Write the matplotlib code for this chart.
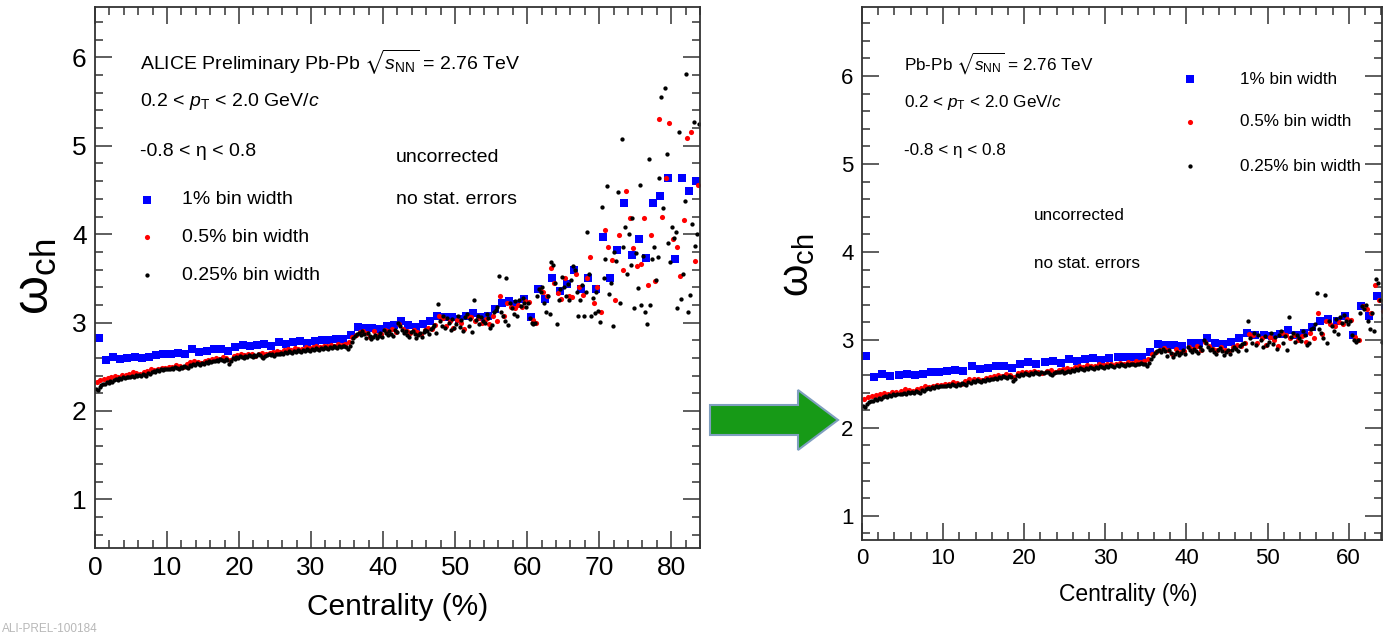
import numpy as np
import matplotlib
matplotlib.use("Agg")
import matplotlib.pyplot as plt
from matplotlib.lines import Line2D
from matplotlib.patches import Polygon
from matplotlib.ticker import MultipleLocator

# ---------------- data ----------------
# omega_ch vs centrality, 1% bins (centres 0.5 ... 83.5)
w_1pct = [2.82, 2.58, 2.61, 2.59, 2.60, 2.615, 2.60, 2.61, 2.63, 2.64,
          2.65, 2.66, 2.65, 2.70, 2.67, 2.68, 2.70, 2.70, 2.68, 2.72,
          2.75, 2.73, 2.75, 2.76, 2.74, 2.78, 2.76, 2.78, 2.79, 2.77,
          2.79, 2.80, 2.80, 2.81, 2.81, 2.86, 2.95, 2.94, 2.94, 2.93,
          2.96, 2.97, 3.02, 2.97, 2.95, 2.98, 3.02, 3.08, 3.06, 3.06,
          3.04, 3.07, 3.11, 3.06, 3.08, 3.15, 3.22, 3.24, 3.21, 3.27,
          3.06, 3.38, 3.27, 3.50, 3.36, 3.44, 3.59, 3.38, 3.51, 3.38,
          3.97, 3.51, 3.82, 4.35, 3.76, 3.94, 3.73, 4.35, 4.43, 4.63,
          3.72, 4.63, 4.49, 4.60]

# 0.5% bins (centres 0.25 ... 83.75)
w_05pct = [2.33, 2.35, 2.36, 2.37, 2.39, 2.40, 2.39, 2.41, 2.41, 2.42,
           2.44, 2.43, 2.42, 2.44, 2.45, 2.47, 2.46, 2.47, 2.49, 2.49,
           2.50, 2.50, 2.52, 2.51, 2.50, 2.53, 2.55, 2.56, 2.55, 2.54,
           2.57, 2.58, 2.59, 2.60, 2.59, 2.61, 2.60, 2.58, 2.62, 2.63,
           2.64, 2.63, 2.65, 2.64, 2.62, 2.65, 2.66, 2.64, 2.66, 2.67,
           2.68, 2.67, 2.69, 2.70, 2.69, 2.71, 2.70, 2.70, 2.72, 2.71,
           2.72, 2.73, 2.72, 2.74, 2.73, 2.75, 2.74, 2.76, 2.75, 2.76,
           2.78, 2.84,
           2.86, 2.89, 2.91, 2.88, 2.84, 2.90, 2.86, 2.87, 2.92, 2.90,
           2.93, 2.89, 2.98, 2.93, 2.90, 2.88, 2.92, 2.89, 2.87, 2.92,
           2.94, 2.93, 2.97, 3.07, 3.05, 2.96, 3.02, 2.94, 3.03, 3.00,
           2.93, 3.08, 3.06, 3.02, 3.05, 3.00, 3.04, 2.98, 3.08, 3.02,
           3.30, 3.07, 3.22, 3.18, 3.16, 3.20, 3.18, 3.24,
           3.23, 3.03, 3.00, 3.38, 3.35, 3.30, 3.62, 3.45, 3.33, 3.27,
           3.50, 3.30, 3.29, 3.55, 3.40, 3.31, 3.50, 3.74, 3.22, 3.40,
           3.12, 4.05, 3.85, 3.71, 3.26, 3.99, 3.60, 4.49, 4.18, 3.84,
           3.64, 3.66, 4.18, 3.43, 3.99, 3.47, 5.30, 4.20, 4.63, 5.26,
           3.94, 3.86, 3.53, 4.16, 5.09, 5.16, 3.70, 4.56]

# 0.25% bins (centres 0.125 ... 83.875)
w_025pct = [2.25, 2.24, 2.27, 2.29, 2.30, 2.31, 2.33, 2.32,
            2.34, 2.33, 2.35, 2.36, 2.35, 2.37, 2.36, 2.38,
            2.37, 2.38, 2.39, 2.38, 2.40, 2.39, 2.41, 2.40,
            2.41, 2.40, 2.42, 2.41, 2.40, 2.43, 2.42, 2.44,
            2.45, 2.44, 2.46, 2.45, 2.47, 2.46, 2.48, 2.47,
            2.48, 2.47, 2.49, 2.48, 2.50, 2.49, 2.48, 2.50,
            2.49, 2.51, 2.50, 2.49, 2.52, 2.51, 2.53, 2.52,
            2.54, 2.53, 2.52, 2.54, 2.53, 2.55, 2.54, 2.56,
            2.55, 2.57, 2.56, 2.58, 2.57, 2.59, 2.58, 2.57,
            2.59, 2.58, 2.53, 2.56, 2.60, 2.59, 2.61, 2.60,
            2.62, 2.61, 2.60, 2.62, 2.61, 2.63, 2.62, 2.61,
            2.63, 2.62, 2.64, 2.63, 2.61, 2.60, 2.62, 2.63,
            2.64, 2.63, 2.65, 2.62, 2.64, 2.65, 2.64, 2.66,
            2.65, 2.67, 2.66, 2.68, 2.67, 2.66, 2.68, 2.67,
            2.69, 2.68, 2.67, 2.69, 2.68, 2.70, 2.69, 2.68,
            2.70, 2.69, 2.71, 2.70, 2.69, 2.71, 2.70, 2.72,
            2.71, 2.70, 2.72, 2.71, 2.73, 2.72, 2.71, 2.73,
            2.72, 2.74, 2.73, 2.72, 2.70, 2.74, 2.78, 2.82,
            2.85, 2.87, 2.88, 2.86, 2.90, 2.87, 2.82, 2.88,
            2.85, 2.81, 2.84, 2.86, 2.83, 2.85, 2.88, 2.84,
            2.92, 2.88, 2.86, 2.90, 2.87, 2.85, 2.92, 2.89,
            3.00, 2.96, 2.92, 2.88, 2.90, 2.86, 2.84, 2.89,
            2.91, 2.87, 2.83, 2.86, 2.88, 2.84, 2.89, 2.92,
            2.90, 2.87, 2.93, 2.95, 2.97, 2.88, 3.21, 3.02,
            2.96, 3.08, 2.94, 3.05, 3.00, 2.92, 3.04, 2.94,
            2.98, 3.08, 2.95, 3.03, 2.90, 3.06, 3.10, 2.96,
            3.04, 2.89, 3.26, 3.03, 3.08, 2.98, 3.06, 3.02,
            2.99, 3.10, 3.05, 2.94, 2.97, 3.12, 3.14, 3.18,
            3.53, 3.12, 3.08, 3.02, 3.51, 2.97, 3.22, 3.16,
            3.10, 3.24, 3.07, 3.26, 3.19, 3.28, 3.22, 3.18,
            3.22, 3.05, 3.00, 2.98, 3.00, 3.30, 3.38, 3.35,
            3.40, 3.22, 3.12, 3.30, 3.10, 3.69, 3.65, 3.45,
            2.98, 3.25, 3.38, 3.52, 3.40, 3.30, 3.44, 3.25,
            3.48, 3.64, 3.60, 3.35, 3.07, 3.25, 3.42, 3.08,
            3.35, 4.02, 3.55, 3.08, 3.28, 3.11, 3.35, 3.13,
            3.01, 4.31, 3.50, 3.72, 4.55, 3.32, 3.45, 2.96,
            3.80, 3.70, 4.48, 3.22, 5.08, 3.85, 4.08, 3.55,
            4.00, 3.65, 4.18, 3.16, 3.79, 3.39, 4.56, 3.20,
            3.75, 3.12, 2.98, 4.85, 3.20, 3.72, 3.85, 3.48,
            3.74, 4.64, 5.55, 4.30, 5.65, 4.91, 3.90, 3.68,
            4.08, 3.96, 4.02, 3.16, 5.16, 3.27, 3.55, 4.37,
            5.81, 3.12, 3.31, 4.12, 5.27, 3.87, 4.00, 5.25]

bin_widths = [1.0, 0.5, 0.25]
series_labels = ["1% bin width", "0.5% bin width", "0.25% bin width"]
series_values = [w_1pct, w_05pct, w_025pct]

# ---------------- style ----------------
FAM = ['Liberation Sans', 'DejaVu Sans']
plt.rcParams['font.family'] = FAM
plt.rcParams['mathtext.fontset'] = 'custom'
plt.rcParams['mathtext.rm'] = 'Liberation Sans'
plt.rcParams['mathtext.it'] = 'Liberation Sans:italic'
plt.rcParams['mathtext.sf'] = 'Liberation Sans'
plt.rcParams['mathtext.fallback'] = 'stixsans'

W, H = 1383, 636
fig = plt.figure(figsize=(W / 100, H / 100), dpi=100)
fig.patch.set_facecolor('white')


def fx(px):
    return px / W


def fy(py):
    return 1 - py / H


styles = [dict(marker='s', color='#0000ff', ms=5.4),
          dict(marker='o', color='#ff0000', ms=3.7),
          dict(marker='o', color='#000000', ms=3.1)]


def draw_panel(rect, xlim, ylim, tick_fs, xmax_label):
    ax = fig.add_axes(rect)
    for vals, bw, st in zip(series_values, bin_widths, styles):
        x = (np.arange(len(vals)) + 0.5) * bw
        ax.plot(x, vals, linestyle='none', marker=st['marker'],
                color=st['color'], ms=st['ms'], mew=0, clip_on=True)
    ax.set_xlim(*xlim)
    ax.set_ylim(*ylim)
    ax.xaxis.set_major_locator(MultipleLocator(10))
    ax.xaxis.set_minor_locator(MultipleLocator(2))
    ax.yaxis.set_major_locator(MultipleLocator(1))
    ax.yaxis.set_minor_locator(MultipleLocator(0.2))
    ax.tick_params(which='both', direction='in', top=True, right=True,
                   color='#333333', width=1.1)
    ax.tick_params(which='major', length=12.5, labelsize=tick_fs, pad=6)
    ax.tick_params(which='minor', length=6)
    ax.set_xticks([t for t in range(0, xmax_label + 1, 10)])
    ax.set_yticks([1, 2, 3, 4, 5, 6])
    for s in ax.spines.values():
        s.set_linewidth(1.3)
        s.set_color('#333333')
    return ax


# left panel
axL = draw_panel([fx(95), fy(548), fx(700) - fx(95), fy(7) - fy(548)],
                 (0, 84), (0.45, 6.57), 19, 80)
# right panel
axR = draw_panel([fx(862), fy(539.5), fx(1382) - fx(862), fy(7) - fy(539.5)],
                 (0, 64.1), (0.73, 6.785), 16, 60)

# ---- left panel texts ----
fsL = 14
fig.text(fx(140), fy(62), r'ALICE Preliminary Pb-Pb $\sqrt{s_{\rm NN}}$ = 2.76 TeV',
         fontsize=fsL, va='center', ha='left')
fig.text(fx(140), fy(101), r'0.2 < $p_{\rm T}$ < 2.0 GeV/$c$',
         fontsize=fsL, va='center', ha='left')
fig.text(fx(140), fy(152), '-0.8 < η < 0.8', fontsize=fsL, va='center', ha='left')
fig.text(fx(396), fy(157), 'uncorrected', fontsize=fsL, va='center', ha='left')
fig.text(fx(396), fy(200), 'no stat. errors', fontsize=fsL, va='center', ha='left')
for lab, st, yy in zip(series_labels, styles, [200, 237, 275]):
    fig.add_artist(Line2D([fx(147)], [fy(yy)], marker=st['marker'], color=st['color'],
                          ms=st['ms'], mew=0, linestyle='none'))
    fig.text(fx(182), fy(yy), lab, fontsize=fsL, va='center', ha='left')

fig.text(fx(398), fy(607), 'Centrality (%)', fontsize=21.5, ha='center', va='center')
fig.text(fx(36), fy(277), r'ω$_{\rm ch}$', fontsize=36, rotation=90,
         ha='center', va='center')

# ---- right panel texts ----
fsR = 12.3
fig.text(fx(904), fy(63), r'Pb-Pb $\sqrt{s_{\rm NN}}$ = 2.76 TeV',
         fontsize=fsR, va='center', ha='left')
fig.text(fx(904), fy(102), r'0.2 < $p_{\rm T}$ < 2.0 GeV/$c$',
         fontsize=fsR, va='center', ha='left')
fig.text(fx(904), fy(151), '-0.8 < η < 0.8', fontsize=fsR, va='center', ha='left')
fig.text(fx(1034), fy(215), 'uncorrected', fontsize=fsR, va='center', ha='left')
fig.text(fx(1034), fy(263), 'no stat. errors', fontsize=fsR, va='center', ha='left')
for lab, st, yy in zip(series_labels, styles, [79, 122, 166]):
    fig.add_artist(Line2D([fx(1190)], [fy(yy)], marker=st['marker'], color=st['color'],
                          ms=st['ms'], mew=0, linestyle='none'))
    fig.text(fx(1240), fy(yy), lab, fontsize=fsR, va='center', ha='left')

fig.text(fx(1128), fy(594), 'Centrality (%)', fontsize=16.5, ha='center', va='center')
fig.text(fx(797), fy(265), r'ω$_{\rm ch}$', fontsize=30, rotation=90,
         ha='center', va='center')

# ---- green arrow between panels ----
arrow_px = [(710, 405), (798, 405), (798, 390), (838, 420),
            (798, 450), (798, 435), (710, 435)]
fig.add_artist(Polygon([(fx(a), fy(b)) for a, b in arrow_px], closed=True,
                       facecolor='#179a17', edgecolor='#7f9fbf', linewidth=1.5,
                       transform=fig.transFigure))

# faint figure id at bottom left
fig.text(fx(2), fy(635), 'ALI-PREL-100184', fontsize=8.5, color='#b8b8b8',
         ha='left', va='bottom')

fig.savefig('out.png', dpi=100)
